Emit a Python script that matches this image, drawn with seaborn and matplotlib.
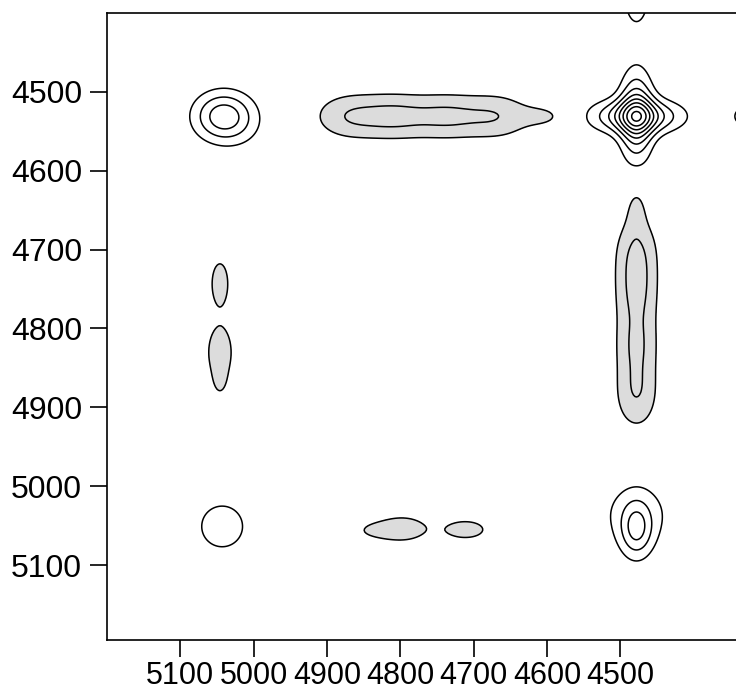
import numpy as np
import seaborn as sns
import matplotlib
matplotlib.use("Agg")
import matplotlib.pyplot as plt

# peak list: centre (x, y), height, widths (cm-1)
peak_x = [4478, 4478, 5043, 5017,
          4872, 4807, 4737, 4667, 4602,
          4478, 4478, 4478, 4478, 4478,
          5046, 5046, 5046,
          5043, 4478, 4478,
          4797, 4836, 4711,
          4478, 4330]
peak_y = [4531, 4531, 4531, 4540,
          4531, 4531, 4531, 4531, 4531,
          4885, 4820, 4755, 4700, 4645,
          4743, 4830, 4865,
          5051, 5054, 5032,
          5054, 5056, 5055,
          4382, 4531]
peak_amp = [4.2, 4.2, 3.4, 0.6,
            -1.75, -1.9, -1.85, -1.75, -1.0,
            -1.8, -1.8, -1.8, -1.8, -1.0,
            -1.8, -1.8, -1.0,
            1.7, 2.8, 1.0,
            -1.7, -0.9, -1.5,
            1.5, 1.5]
peak_sx = [41, 16, 28, 27,
           34.5, 34.5, 34.5, 34.5, 24,
           21, 21, 21, 21, 10,
           9.7, 14, 6.5,
           27, 16, 54,
           27, 21.5, 26,
           16, 15]
peak_sy = [15, 38, 22, 25,
           21, 21, 21, 21, 10,
           32, 32, 32, 32, 22,
           23, 28, 14,
           25, 26, 34,
           13, 8, 11,
           31, 12]

pos_levels = [1, 2, 3, 4, 5, 6, 7, 8, 9]
neg_levels = [-9, -8, -7, -6, -5, -4, -3, -2, -1]
x_ticks = [5100, 5000, 4900, 4800, 4700, 4600, 4500]
y_ticks = [4500, 4600, 4700, 4800, 4900, 5000, 5100]

# build the map on a grid
gx = np.arange(4270, 5262, 2.0)
gy = np.arange(4340, 5262, 2.0)
X, Y = np.meshgrid(gx, gy)
Z = np.zeros_like(X)
for cx, cy, a, sx, sy in zip(peak_x, peak_y, peak_amp, peak_sx, peak_sy):
    Z += a * np.exp(-((X - cx) ** 2 / (2 * sx ** 2) + (Y - cy) ** 2 / (2 * sy ** 2)))

sns.set_style("ticks")
plt.rcParams['font.family'] = ['Liberation Sans', 'DejaVu Sans']

fig = plt.figure(figsize=(7.36, 6.94), dpi=100)
ax = fig.add_axes([107 / 736, 1 - 640 / 694, 660 / 736, 627 / 694])

ax.contourf(X, Y, Z, levels=[Z.min() - 1, -1], colors=['#dcdcdc'])
ax.contour(X, Y, Z, levels=neg_levels + pos_levels, colors='black',
           linewidths=1.1, linestyles='solid')

ax.set_xlim(5200, 4300)
ax.set_ylim(5195, 4400)
ax.set_xticks(x_ticks)
ax.set_yticks(y_ticks)
ax.tick_params(axis='both', length=12, width=1.2,
               color='black', labelcolor='black')
ax.tick_params(axis='x', pad=3, labelsize=22)
ax.tick_params(axis='y', pad=6, labelsize=23)
for s in ax.spines.values():
    s.set_linewidth(1.2)
    s.set_color('black')
ax.set_xlabel('')
ax.set_ylabel('')

fig.savefig('out.png', dpi=100)
